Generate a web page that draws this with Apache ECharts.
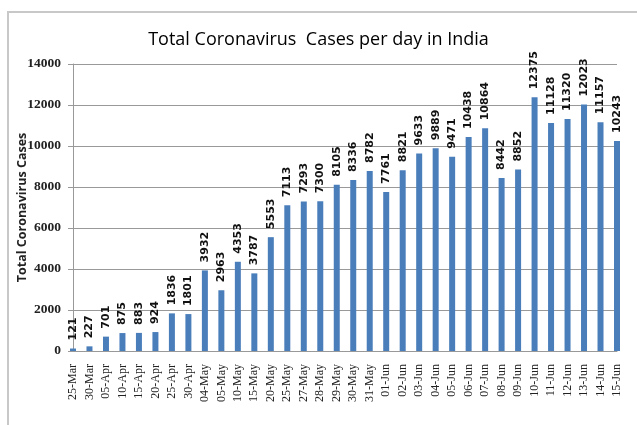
<!DOCTYPE html>
<html>
<head>
<meta charset="utf-8">
<script src="https://cdn.jsdelivr.net/npm/echarts@6/dist/echarts.min.js"></script>
<style>html,body{margin:0;padding:0;background:#fff}#c{width:637px;height:425px}</style>
</head>
<body>
<div id="c"></div>
<script>
const categories = ['25-Mar','30-Mar','05-Apr','10-Apr','15-Apr','20-Apr','25-Apr','30-Apr','04-May','05-May','10-May','15-May','20-May','25-May','27-May','28-May','29-May','30-May','31-May','01-Jun','02-Jun','03-Jun','04-Jun','05-Jun','06-Jun','07-Jun','08-Jun','09-Jun','10-Jun','11-Jun','12-Jun','13-Jun','14-Jun','15-Jun'];
const cases = [121,227,701,875,883,924,1836,1801,3932,2963,4353,3787,5553,7113,7293,7300,8105,8336,8782,7761,8821,9633,9889,9471,10438,10864,8442,8852,12375,11128,11320,12023,11157,10243];
const yTicks = {min: 0, max: 14000, interval: 2000};

const chart = echarts.init(document.getElementById('c'));
chart.setOption({
  animation: false,
  graphic: [{
    type: 'rect', shape: {x: 8, y: 12, width: 640, height: 420},
    style: {fill: 'none', stroke: '#c8c8c8', lineWidth: 2}, silent: true
  }],
  title: {
    text: 'Total Coronavirus  Cases per day in India',
    left: 'center', top: 26,
    textStyle: {fontFamily: 'Open Sans', fontSize: 18, fontWeight: 'normal', color: '#000'}
  },
  grid: {left: 73, right: 20, top: 64, bottom: 74},
  xAxis: {
    type: 'category', data: categories, boundaryGap: false,
    axisLine: {lineStyle: {color: '#999'}},
    axisTick: {show: false},
    axisLabel: {rotate: 90, interval: 0, margin: 13, fontFamily: 'Liberation Serif', fontSize: 12, color: '#222'},
    splitLine: {show: false}
  },
  yAxis: {
    type: 'value', min: yTicks.min, max: yTicks.max, interval: yTicks.interval,
    name: 'Total Coronavirus Cases', nameLocation: 'middle', nameGap: 44, nameMoveOverlap: false,
    nameTextStyle: {fontFamily: 'Open Sans', fontSize: 12.5, fontWeight: 'bold', color: '#222'},
    axisLine: {show: true, lineStyle: {color: '#999'}},
    axisTick: {show: true, inside: false, length: 5, lineStyle: {color: '#999'}},
    axisLabel: {margin: 12, fontFamily: 'Liberation Serif', fontSize: 13.5, fontWeight: 'bold', color: '#222',
      formatter: v => String(v)},
    splitLine: {lineStyle: {color: '#999', width: 1}}
  },
  series: [{
    type: 'bar', data: cases, barWidth: 6,
    itemStyle: {color: '#4a7ebb'},
    label: {
      show: true, position: 'top', rotate: 90, align: 'left', verticalAlign: 'middle', distance: 8,
      fontFamily: 'DejaVu Sans', fontSize: 11, fontWeight: 'bold', color: '#111'
    }
  }]
});
</script>
</body>
</html>
